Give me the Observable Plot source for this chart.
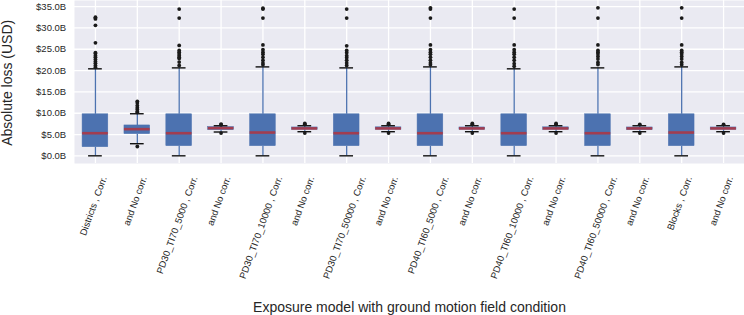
<!DOCTYPE html>
<html>
<head>
<meta charset="utf-8">
<script src="https://cdn.jsdelivr.net/npm/d3@7"></script>
<script src="https://cdn.jsdelivr.net/npm/@observablehq/plot@0.6"></script>
<style>
  html, body { margin: 0; padding: 0; background: white; }
</style>
</head>
<body>
<div id="chart"></div>
<script>
// ---- data (values in billions of USD) ----
const labels = ["Districts , Corr.", "and No corr.", "PD30_TI70_5000 , Corr.", "and No corr.",
  "PD30_TI70_10000 , Corr.", "and No corr.", "PD30_TI70_50000 , Corr.", "and No corr.",
  "PD40_TI60_5000 , Corr.", "and No corr.", "PD40_TI60_10000 , Corr.", "and No corr.",
  "PD40_TI60_50000 , Corr.", "and No corr.", "Blocks , Corr.", "and No corr."];
const q1 =        [2.04, 5.10, 2.28, 6.04, 2.28, 6.13, 2.28, 6.13, 2.28, 6.13, 2.28, 6.13, 2.28, 6.04, 2.28, 6.13];
const median =    [5.32, 6.27, 5.32, 6.51, 5.48, 6.44, 5.32, 6.44, 5.32, 6.44, 5.32, 6.44, 5.32, 6.44, 5.48, 6.44];
const q3 =        [9.75, 7.14, 9.75, 6.75, 9.75, 6.67, 9.75, 6.70, 9.75, 6.67, 9.75, 6.70, 9.75, 6.67, 9.75, 6.67];
const whiskerLo = [0.02, 2.86, 0.02, 5.60, 0.02, 5.67, 0.02, 5.67, 0.02, 5.67, 0.02, 5.67, 0.02, 5.67, 0.02, 5.67];
const whiskerHi = [20.41, 9.88, 20.63, 7.07, 20.86, 7.07, 20.63, 7.07, 20.86, 7.07, 20.41, 7.07, 20.63, 7.07, 20.86, 7.07];
const outliers = [
  [20.8, 21.2, 21.7, 22.1, 22.6, 23.1, 23.5, 24.0, 24.2, 26.5, 30.6, 32.1, 32.3, 32.5],
  [2.2, 10.2, 10.4, 10.9, 11.3, 11.8, 12.4, 12.8],
  [21.2, 22.0, 22.8, 23.1, 23.5, 23.9, 24.3, 24.7, 25.9, 32.3, 34.4],
  [5.34, 7.3, 7.45],
  [21.35, 21.8, 22.4, 23.1, 23.8, 24.3, 24.9, 26.0, 32.3, 34.4, 34.6],
  [5.34, 7.4, 7.6],
  [21.2, 21.8, 22.4, 23.0, 23.5, 24.2, 24.7, 25.8, 32.3, 34.4],
  [5.34, 7.4, 7.6],
  [21.35, 21.8, 22.4, 23.1, 23.8, 24.3, 24.9, 26.0, 32.3, 34.4, 34.7],
  [5.34, 7.4, 7.6],
  [21.0, 21.6, 22.4, 23.1, 23.8, 24.3, 24.9, 26.0, 32.3, 34.4],
  [5.34, 7.4, 7.6],
  [21.4, 21.9, 22.7, 23.3, 23.9, 24.3, 24.7, 26.0, 32.3, 34.7],
  [5.34, 7.4],
  [21.35, 21.9, 22.7, 23.3, 23.9, 24.3, 24.7, 26.0, 32.3, 34.7],
  [5.34, 7.4]
];
const yTicks = [0, 5, 10, 15, 20, 25, 30, 35];
const yLabel = "Absolute loss (USD)";
const xLabel = "Exposure model with ground motion field condition";

// ---- derived tables ----
const idx = labels.map((_, i) => i);
const stats = idx.map(i => ({i, q1: q1[i], med: median[i], q3: q3[i], lo: whiskerLo[i], hi: whiskerHi[i]}));
const outRows = idx.flatMap(i => outliers[i].map(v => ({i, v})));

const FONT = "'Liberation Sans', Arial, Helvetica, sans-serif";
const TICK_FS = 9.5;
const ctx = document.createElement("canvas").getContext("2d");
ctx.font = `${TICK_FS}px 'Liberation Sans', Arial, sans-serif`;
const rad = 70 * Math.PI / 180;

const labelMarks = idx.map(i => {
  const L = ctx.measureText(labels[i]).width;
  const h = TICK_FS * 1.0;
  const bboxH = L * Math.sin(rad) + h * Math.cos(rad);
  return Plot.text([labels[i]], {
    x: () => i, text: d => d, frameAnchor: "bottom",
    rotate: -70, textAnchor: "middle", lineAnchor: "middle",
    dx: -2, dy: 11.5 + bboxH / 2,
    fontSize: TICK_FS, fill: "#262626"
  });
});

const chart = Plot.plot({
  width: 744,
  height: 315,
  marginLeft: 74,
  marginRight: 0,
  marginTop: 0,
  marginBottom: 152,
  style: {fontFamily: FONT, fontSize: TICK_FS + "px", color: "#262626", background: "white", overflow: "visible"},
  x: {type: "band", domain: idx, paddingInner: 0.386, paddingOuter: 0.193, round: false, axis: null},
  y: {domain: [-1.78, 36.42], axis: null},
  marks: [
    Plot.frame({fill: "#EAEAF2", stroke: null}),
    Plot.ruleY(yTicks, {stroke: "white", strokeWidth: 1.3}),
    Plot.ruleX(idx, {x: d => d, stroke: "white", strokeWidth: 1.3}),
    Plot.axisY({ticks: yTicks, tickFormat: d => `$${d.toFixed(1)}B`, tickSize: 0, tickPadding: 8.3, label: null, fontSize: TICK_FS, fill: "#262626"}),
    Plot.ruleX(stats, {x: "i", y1: "lo", y2: "q1", stroke: "#4C72B0", strokeWidth: 1.3}),
    Plot.ruleX(stats, {x: "i", y1: "q3", y2: "hi", stroke: "#4C72B0", strokeWidth: 1.3}),
    Plot.barY(stats, {x: "i", y1: "q1", y2: "q3", fill: "#4C72B0", stroke: "#4C72B0", strokeWidth: 0.5}),
    Plot.tickY(stats, {x: "i", y: "lo", stroke: "#111", strokeWidth: 1.4, insetLeft: 6, insetRight: 6}),
    Plot.tickY(stats, {x: "i", y: "hi", stroke: "#111", strokeWidth: 1.4, insetLeft: 6, insetRight: 6}),
    Plot.tickY(stats, {x: "i", y: "med", stroke: "#B0343F", strokeOpacity: 0.85, strokeWidth: 2.6}),
    Plot.dot(outRows, {x: "i", y: "v", r: 1.9, fill: "#1a1a1a", stroke: null}),
    ...labelMarks,
    Plot.text([yLabel], {text: d => d, frameAnchor: "left", rotate: -90, dx: -66.5, dy: 0.8,
      textAnchor: "middle", lineAnchor: "middle", fontSize: 14, fill: "#262626"}),
    Plot.text([xLabel], {text: d => d, frameAnchor: "bottom", dx: 0, dy: 144,
      textAnchor: "middle", lineAnchor: "middle", fontSize: 14, fill: "#262626"})
  ]
});
document.getElementById("chart").appendChild(chart);
</script>
</body>
</html>
